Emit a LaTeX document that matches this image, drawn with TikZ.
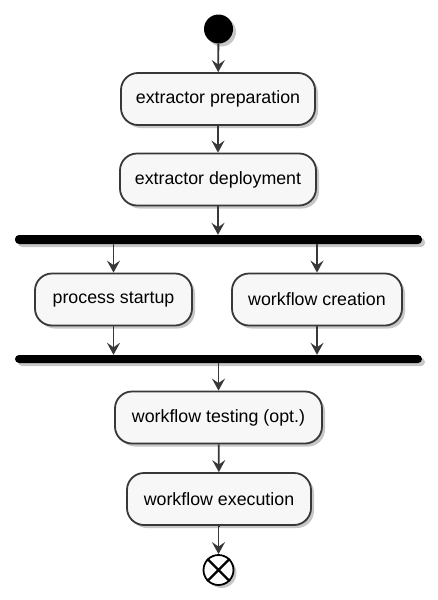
\documentclass[tikz,border=0pt]{standalone}
\usepackage{fontspec}
\setmainfont{Liberation Sans}
\usetikzlibrary{shadows,arrows.meta}
\definecolor{boxfill}{HTML}{F7F7F7}
\definecolor{edge}{HTML}{383838}
\begin{document}
\begin{tikzpicture}[x=1pt,y=-1pt,
  shad/.style={drop shadow={shadow xshift=3pt,shadow yshift=-3pt,opacity=0.22,fill=black}},
  act/.style={draw=edge,line width=1.8pt,fill=boxfill,rounded corners=17pt,minimum height=52pt,inner sep=0pt,font=\fontsize{17.8}{21}\selectfont,shad},
  bar/.style={fill=black,rounded corners=4pt,minimum height=9pt,minimum width=407pt,inner sep=0pt,shad},
  flow/.style={draw=edge,line width=1.8pt,-{Stealth[length=12pt,width=13pt,inset=4.5pt]}}
]
\useasboundingbox (0,0) rectangle (438,600);
\node[circle,fill=black,minimum size=29pt,inner sep=0pt,shad] (start) at (218.5,29) {};
\node[act,minimum width=194pt] (b1) at (218,99) {extractor preparation};
\node[act,minimum width=196pt] (b2) at (218,179.5) {extractor deployment};
\node[bar] (bar1) at (218.5,239.5) {};
\node[act,minimum width=157pt] (ps) at (113.5,299.5) {process startup};
\node[act,minimum width=170pt] (wc) at (317,299.5) {workflow creation};
\node[bar,minimum height=8pt] (bar2) at (218.5,359) {};
\node[act,minimum width=207pt] (wt) at (218.5,417.5) {workflow testing (opt.)};
\node[act,minimum width=184pt] (we) at (219,499) {workflow execution};
\node[circle,draw=black,line width=1.8pt,fill=white,minimum size=30pt,inner sep=0pt,shad] (end) at (218.5,570) {};
\draw[line width=2.4pt] (end.45) -- (end.225) (end.135) -- (end.315);
\draw[flow] (start) -- (b1);
\draw[flow] (b1) -- (b2);
\draw[flow] (b2.south) -- (b2.south |- bar1.north);
\draw[flow] (ps.north |- bar1.south) -- (ps.north);
\draw[flow] (wc.north |- bar1.south) -- (wc.north);
\draw[flow] (ps.south) -- (ps.south |- bar2.north);
\draw[flow] (wc.south) -- (wc.south |- bar2.north);
\draw[flow] (wt.north |- bar2.south) -- (wt.north);
\draw[flow] (wt) -- (we);
\draw[flow] (we.south) -- (we.south -| end.north) -- (end.north);
\end{tikzpicture}
\end{document}
